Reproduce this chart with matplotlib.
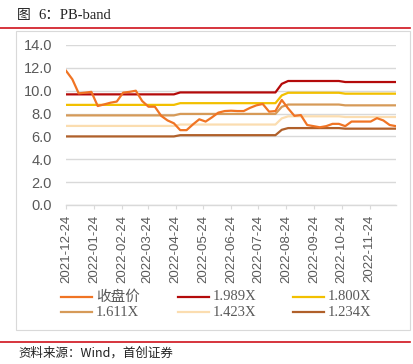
import matplotlib
matplotlib.use("Agg")
import matplotlib.pyplot as plt
from matplotlib.patches import Rectangle
from matplotlib.lines import Line2D
import pandas as pd

# ---- data ----
dates = pd.date_range("2021-12-24", periods=53, freq="7D")
price = [11.75, 11.0, 9.77, 9.83, 9.9, 8.66, 8.8, 8.95, 9.05, 9.83,
         9.9, 10.0, 9.1, 8.6, 8.6, 7.8, 7.4, 7.15, 6.55, 6.55,
         7.05, 7.5, 7.3, 7.67, 8.08, 8.22, 8.25, 8.22, 8.22, 8.5,
         8.72, 8.84, 8.17, 8.22, 9.19, 8.45, 7.8, 7.87, 7.0, 6.9,
         6.8, 6.9, 7.1, 7.1, 6.9, 7.3, 7.3, 7.3, 7.3, 7.6,
         7.4, 7.0, 6.9]
band_1989 = [9.68] * 18 + [9.85] * 16 + [10.60] + [10.85] * 9 + [10.76] * 9
band_1800 = [8.76] * 18 + [8.91] * 16 + [9.59] + [9.82] * 9 + [9.74] * 9
band_1611 = [7.84] * 18 + [7.97] * 16 + [8.59] + [8.79] * 9 + [8.72] * 9
band_1423 = [6.92] * 18 + [7.04] * 16 + [7.58] + [7.76] * 9 + [7.70] * 9
band_1234 = [6.00] * 18 + [6.11] * 16 + [6.58] + [6.73] * 9 + [6.68] * 9

series_names = ["收盘价", "1.989X", "1.800X", "1.611X", "1.423X", "1.234X"]
tick_labels = ["2021-12-24", "2022-01-24", "2022-02-24", "2022-03-24",
               "2022-04-24", "2022-05-24", "2022-06-24", "2022-07-24",
               "2022-08-24", "2022-09-24", "2022-10-24", "2022-11-24"]
yticks = [0, 2, 4, 6, 8, 10, 12, 14]

colors = ["#F07424", "#B40A0A", "#F2C000", "#D69A58", "#FBDDB0", "#B0602A"]
series = [price, band_1989, band_1800, band_1611, band_1423, band_1234]

W, H = 414, 364
fig = plt.figure(figsize=(W / 100, H / 100), dpi=100)

serif = ["Liberation Serif", "Noto Sans CJK SC"]
cjk_serif = ["Noto Sans CJK SC", "Liberation Serif"]

# title
fig.text(17 / W, 1 - 15 / H, "图", fontsize=10, family=cjk_serif, va="center", ha="left", color="#222222")
fig.text(38 / W, 1 - 15 / H, "6：PB-band", fontsize=10.5, family=serif, va="center", ha="left", color="#222222")
# top red line
fig.add_artist(Line2D([0, 410 / W], [1 - 28 / H, 1 - 28 / H], color="#D0121B", lw=1.2, transform=fig.transFigure))
# chart border box
fig.add_artist(Rectangle((16 / W, 1 - 330 / H), (410 - 16) / W, (330 - 31) / H,
                         transform=fig.transFigure, fill=False, ec="#D9D9D9", lw=0.8))
# bottom red line
fig.add_artist(Line2D([0, 410 / W], [1 - 342 / H, 1 - 342 / H], color="#D0121B", lw=1.2, transform=fig.transFigure))
fig.text(18 / W, 1 - 353 / H, "资料来源：Wind，首创证券", fontsize=9, family=cjk_serif,
         va="center", ha="left", color="#222222", style="italic")

ax = fig.add_axes([66 / W, 1 - 205 / H, (396 - 66) / W, (205 - 45) / H])
for s, c, n in zip(series, colors, series_names):
    ax.plot(dates, s, color=c, lw=1.6, label=n, zorder=3 if n == "收盘价" else 2)

ax.set_ylim(0, 14)
ax.set_yticks(yticks)
ax.set_yticklabels([f"{v:.1f}" for v in yticks])
ax.set_xlim(dates[0], dates[-1])
tick_dates = pd.to_datetime(tick_labels)
ax.set_xticks(tick_dates)
ax.set_xticklabels(tick_labels, rotation=90)

ax.grid(axis="y", color="#D9D9D9", lw=1.0)
ax.set_axisbelow(True)
for sp in ["top", "right", "left"]:
    ax.spines[sp].set_visible(False)
ax.spines["bottom"].set_color("#D9D9D9")
ax.spines["bottom"].set_linewidth(1.0)
ax.tick_params(axis="y", length=0, pad=10, labelsize=10.5, labelcolor="#595959")
ax.tick_params(axis="x", length=3, color="#D9D9D9", pad=4, labelsize=9.5, labelcolor="#595959")
for lab in ax.get_xticklabels() + ax.get_yticklabels():
    lab.set_family("Liberation Sans")

# legend (manual, 3 columns x 2 rows)
col_x = [61, 178, 293]
row_y = [297, 312]
order = [(0, 0, 0), (1, 0, 1), (2, 0, 2), (3, 1, 0), (4, 1, 1), (5, 1, 2)]
for i, r, c in order:
    x0 = col_x[c]
    y = 1 - row_y[r] / H
    fig.add_artist(Line2D([x0 / W, (x0 + 31) / W], [y, y], color=colors[i], lw=1.6, transform=fig.transFigure))
    fam = cjk_serif if i == 0 else serif
    fig.text((x0 + 35) / W, y, series_names[i], fontsize=10.5, family=fam, va="center",
             ha="left", color="#595959")

fig.savefig("out.png", dpi=100)
